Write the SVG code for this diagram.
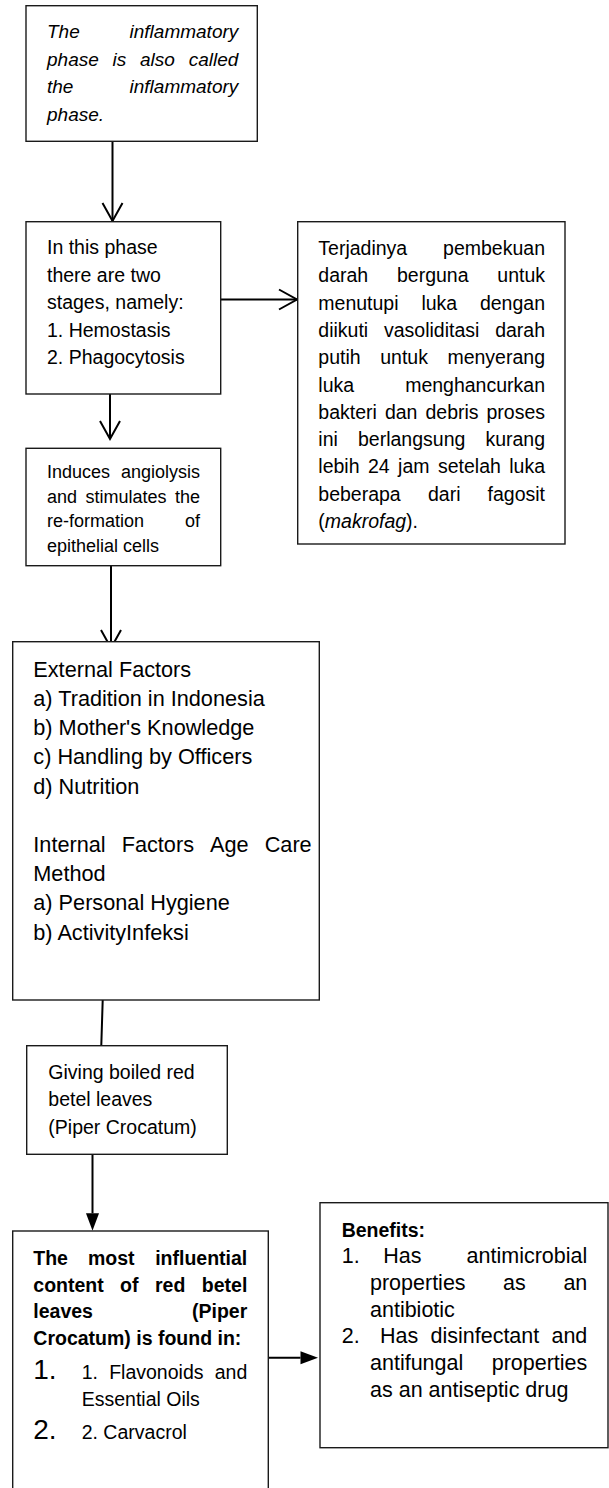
<svg xmlns="http://www.w3.org/2000/svg" width="609" height="1488" viewBox="0 0 609 1488">
<style>
.box{fill:#fff;stroke:#1a1a1a;stroke-width:1.4}
.t{font-family:"Liberation Sans",Arial,sans-serif;fill:#000}
.s18{font-size:18px}
.s19{font-size:19px}
.s195{font-size:19.5px}
.s215{font-size:21.5px}
.s217{font-size:21.7px}
.big{font-size:28px}
.it{font-style:italic}
.b{font-weight:bold}
.e{text-anchor:end}
.conn line{stroke:#000;stroke-width:2;fill:none}
</style>
<defs>
<marker id="vee" markerUnits="userSpaceOnUse" markerWidth="24" markerHeight="24" viewBox="-2 -2 24 24" refX="18" refY="10" orient="auto" overflow="visible">
<path d="M0,0 L18,10 L0,20" fill="none" stroke="#000" stroke-width="2"/>
</marker>
<marker id="tri" markerUnits="userSpaceOnUse" markerWidth="20" markerHeight="16" viewBox="0 0 20 16" refX="0" refY="6.5" orient="auto" overflow="visible">
<path d="M0,0 L17.5,6.5 L0,13 z" fill="#000"/>
</marker>
</defs>

<g id="connectors" class="conn">
<line x1="112.5" y1="141.3" x2="112.5" y2="221" marker-end="url(#vee)"/>
<line x1="220.7" y1="299.5" x2="297" y2="299.5" marker-end="url(#vee)"/>
<line x1="110" y1="394" x2="110" y2="439" marker-end="url(#vee)"/>
<line x1="111" y1="565.7" x2="111" y2="648" marker-end="url(#vee)"/>
<line x1="102.7" y1="1000" x2="101.3" y2="1045.7"/>
<line x1="92.5" y1="1154.3" x2="92.5" y2="1213.3" marker-end="url(#tri)"/>
<line x1="268.3" y1="1357.7" x2="300.5" y2="1357.7" marker-end="url(#tri)"/>
</g>

<g id="node-inflammatory-phase">
<rect class="box" x="26" y="5.7" width="231.3" height="135.6"/>
<g class="t s19 it">
<text x="47" y="38.3">The</text><text class="e" x="238.3" y="38.3">inflammatory</text>
<text x="47" y="65.8">phase</text><text x="112.5" y="65.8">is</text><text x="140" y="65.8">also</text><text class="e" x="238.3" y="65.8">called</text>
<text x="47" y="93.3">the</text><text class="e" x="238.3" y="93.3">inflammatory</text>
<text x="47" y="120.8">phase.</text>
</g>
</g>

<g id="node-two-stages">
<rect class="box" x="26" y="221.7" width="194.7" height="172.3"/>
<g class="t s195">
<text x="47" y="254">In this phase</text>
<text x="47" y="281.5">there are two</text>
<text x="47" y="309">stages, namely:</text>
<text x="47" y="336.5">1. Hemostasis</text>
<text x="47" y="364">2. Phagocytosis</text>
</g>
</g>

<g id="node-pembekuan">
<rect class="box" x="297.7" y="221.7" width="267.3" height="322.3"/>
<g class="t s195">
<text x="318.3" y="255">Terjadinya</text><text class="e" x="545" y="255">pembekuan</text>
<text x="318.3" y="282.3">darah</text><text x="397" y="282.3">berguna</text><text class="e" x="545" y="282.3">untuk</text>
<text x="318.3" y="309.6">menutupi</text><text x="421.4" y="309.6">luka</text><text class="e" x="545" y="309.6">dengan</text>
<text x="318.3" y="336.9">diikuti</text><text x="384" y="336.9">vasoliditasi</text><text class="e" x="545" y="336.9">darah</text>
<text x="318.3" y="364.2">putih</text><text x="380.2" y="364.2">untuk</text><text class="e" x="545" y="364.2">menyerang</text>
<text x="318.3" y="391.5">luka</text><text class="e" x="545" y="391.5">menghancurkan</text>
<text x="318.3" y="418.8">bakteri</text><text x="384.9" y="418.8">dan</text><text x="425.5" y="418.8">debris</text><text class="e" x="545" y="418.8">proses</text>
<text x="318.3" y="446.1">ini</text><text x="358" y="446.1">berlangsung</text><text class="e" x="545" y="446.1">kurang</text>
<text x="318.3" y="473.4">lebih</text><text x="368" y="473.4">24</text><text x="398.1" y="473.4">jam</text><text x="438" y="473.4">setelah</text><text class="e" x="545" y="473.4">luka</text>
<text x="318.3" y="500.7">beberapa</text><text x="428" y="500.7">dari</text><text class="e" x="545" y="500.7">fagosit</text>
<text x="318.3" y="528">(<tspan class="it">makrofag</tspan>).</text>
</g>
</g>

<g id="node-angiolysis">
<rect class="box" x="26" y="448.3" width="194.7" height="117.4"/>
<g class="t s18">
<text x="47" y="478">Induces</text><text class="e" x="200" y="478">angiolysis</text>
<text x="47" y="502.5">and</text><text x="85.5" y="502.5">stimulates</text><text class="e" x="200" y="502.5">the</text>
<text x="47" y="527">re-formation</text><text class="e" x="200" y="527">of</text>
<text x="47" y="551.5">epithelial cells</text>
</g>
</g>

<g id="node-factors">
<rect class="box" x="12.7" y="641.7" width="306.6" height="358.3"/>
<g class="t s217">
<text x="33.3" y="676.7">External Factors</text>
<text x="33.3" y="705.9">a) Tradition in Indonesia</text>
<text x="33.3" y="735.1">b) Mother's Knowledge</text>
<text x="33.3" y="764.3">c) Handling by Officers</text>
<text x="33.3" y="793.5">d) Nutrition</text>
<text x="33.3" y="851.9">Internal</text><text x="121.7" y="851.9">Factors</text><text x="210.1" y="851.9">Age</text><text class="e" x="311.7" y="851.9">Care</text>
<text x="33.3" y="881.1">Method</text>
<text x="33.3" y="910.3">a) Personal Hygiene</text>
<text x="33.3" y="939.5">b) ActivityInfeksi</text>
</g>
</g>

<g id="node-betel-leaves">
<rect class="box" x="26.7" y="1045.7" width="200.6" height="108.6"/>
<g class="t s195">
<text x="48.3" y="1079">Giving boiled red</text>
<text x="48.3" y="1106.3">betel leaves</text>
<text x="48.3" y="1133.6">(Piper Crocatum)</text>
</g>
</g>

<g id="node-content">
<rect class="box" x="12.7" y="1231" width="255.6" height="265"/>
<g class="t s195 b">
<text x="33.3" y="1265">The</text><text x="88" y="1265">most</text><text class="e" x="247.3" y="1265">influential</text>
<text x="33.3" y="1291.7">content</text><text x="120.1" y="1291.7">of</text><text x="155" y="1291.7">red</text><text class="e" x="247.3" y="1291.7">betel</text>
<text x="33.3" y="1318.3">leaves</text><text class="e" x="247.3" y="1318.3">(Piper</text>
<text x="33.3" y="1345">Crocatum) is found in:</text>
</g>
<g class="t big">
<text x="33.3" y="1379.3">1.</text>
<text x="33.3" y="1439.3">2.</text>
</g>
<g class="t s195">
<text x="81.7" y="1379.3">1.</text><text x="109.2" y="1379.3">Flavonoids</text><text class="e" x="247.3" y="1379.3">and</text>
<text x="81.7" y="1406">Essential Oils</text>
<text x="81.7" y="1439.3">2. Carvacrol</text>
</g>
</g>

<g id="node-benefits">
<rect class="box" x="320" y="1202.7" width="288" height="245"/>
<text class="t s195 b" x="341.7" y="1236.7">Benefits:</text>
<g class="t s215">
<text x="341.7" y="1263.3">1.</text><text x="383.3" y="1263.3">Has</text><text class="e" x="587.3" y="1263.3">antimicrobial</text>
<text x="370" y="1290">properties</text><text x="503" y="1290">as</text><text class="e" x="587.3" y="1290">an</text>
<text x="370" y="1316.7">antibiotic</text>
<text x="341.7" y="1343.4">2.</text><text x="380" y="1343.4">Has</text><text x="430.5" y="1343.4">disinfectant</text><text class="e" x="587.3" y="1343.4">and</text>
<text x="370" y="1370.1">antifungal</text><text class="e" x="587.3" y="1370.1">properties</text>
<text x="370" y="1396.8">as an antiseptic drug</text>
</g>
</g>
</svg>
